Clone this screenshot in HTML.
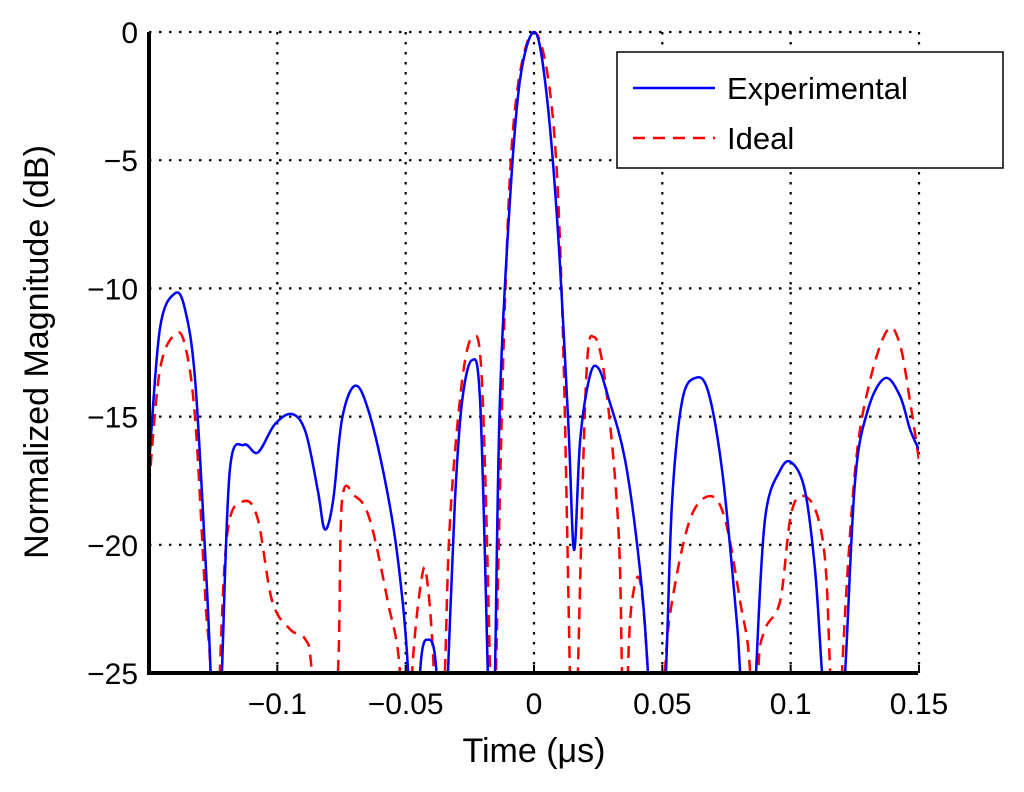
<!DOCTYPE html>
<html><head><meta charset="utf-8"><style>
html,body{margin:0;background:#fff;width:1024px;height:792px;overflow:hidden;}
svg{display:block;font-family:"Liberation Sans",Arial,sans-serif;}
</style></head><body>
<svg id="chart" width="1024" height="792">
<defs><clipPath id="clip"><rect x="149" y="28" width="770" height="645"/></clipPath></defs>
<g id="grid"></g>
<g id="series" clip-path="url(#clip)"></g>
<g id="axes"></g>
<text x="48" y="352" transform="rotate(-90 48 352)" text-anchor="middle" font-size="34">Normalized Magnitude (dB)</text>
<text x="534" y="762" text-anchor="middle" font-size="34">Time (μs)</text>
<g>
<rect x="617" y="52" width="386" height="116" fill="#fff" stroke="#000" stroke-width="1.5"/>
<line x1="633" y1="88" x2="715" y2="88" stroke="#0000ff" stroke-width="2.5"/>
<text x="727" y="99" font-size="31">Experimental</text>
<line x1="633" y1="138" x2="715" y2="138" stroke="#ff0000" stroke-width="2.5" stroke-dasharray="12,8"/>
<text x="727" y="149" font-size="31">Ideal</text>
</g>
</svg>
<script>
const xTicks=[-0.1,-0.05,0,0.05,0.1,0.15];
const xTickLabels=["\u22120.1","\u22120.05","0","0.05","0.1","0.15"];
const yTicks=[0,-5,-10,-15,-20,-25];
const yTickLabels=["0","\u22125","\u221210","\u221215","\u221220","\u221225"];
const expT=[-0.15,-0.1458,-0.14,-0.136,-0.132,-0.128,-0.126,-0.124,-0.1216,-0.1185,-0.113,-0.1076,-0.101,-0.0943,-0.089,-0.0842,-0.0815,-0.0783,-0.0748,-0.0698,-0.0647,-0.058,-0.053,-0.049,-0.0467,-0.0444,-0.0413,-0.038,-0.036,-0.0335,-0.0308,-0.028,-0.0242,-0.021,-0.018,-0.0166,-0.0152,-0.0133,-0.0094,-0.0055,0,0.0043,0.009,0.0133,0.0156,0.018,0.0218,0.025,0.0288,0.0355,0.0413,0.0444,0.048,0.0514,0.0538,0.0577,0.0627,0.0678,0.0733,0.0783,0.0803,0.0834,0.0865,0.09,0.0959,0.1005,0.1056,0.1095,0.1122,0.1167,0.1212,0.1251,0.1302,0.1368,0.1426,0.1465,0.15];
const expV=[-16.9,-11.6,-10.2,-10.8,-13.6,-20.6,-25,-32,-25,-17.1,-16.1,-16.4,-15.3,-14.9,-15.6,-17.9,-19.4,-18.3,-15.1,-13.8,-14.7,-17.5,-20.6,-25,-32,-25,-23.7,-25,-32,-25,-18.3,-14.4,-12.8,-14.4,-25,-32,-25,-14.4,-6.6,-1.9,0,-1.9,-7.3,-15.1,-20.2,-15.9,-13.4,-13.1,-14.2,-16.7,-21,-25,-32,-25,-18.3,-14.4,-13.5,-14,-17.1,-22.2,-25,-32,-25,-19,-17.1,-16.8,-17.9,-21,-25,-32,-25,-17.5,-14.7,-13.5,-14.2,-15.5,-16.3];
const idealT=[-0.15,-0.1458,-0.14,-0.136,-0.132,-0.128,-0.126,-0.124,-0.1224,-0.1193,-0.113,-0.1076,-0.102,-0.095,-0.089,-0.0865,-0.081,-0.0764,-0.0748,-0.0698,-0.064,-0.057,-0.0522,-0.05,-0.0475,-0.0436,-0.0415,-0.039,-0.037,-0.0347,-0.0327,-0.028,-0.0238,-0.0203,-0.0171,-0.016,-0.0148,-0.0113,-0.0074,0,0.007,0.0109,0.014,0.0155,0.0171,0.0203,0.0234,0.0277,0.0327,0.0343,0.0355,0.0366,0.0382,0.0413,0.0444,0.048,0.051,0.0538,0.0608,0.0686,0.0744,0.0803,0.0842,0.0857,0.0873,0.09,0.0959,0.0998,0.1037,0.1095,0.1134,0.1154,0.118,0.12,0.1251,0.1309,0.1379,0.1426,0.1465,0.15];
const idealV=[-17.7,-13.2,-11.8,-12.2,-15.1,-22.2,-25,-32,-25,-19.4,-18.3,-19,-22.2,-23.3,-23.7,-25,-32,-25,-18.3,-18.1,-19,-22.2,-25,-32,-25,-21.2,-21.5,-25,-32,-25,-19,-13.6,-11.9,-13.6,-25,-32,-25,-10.5,-3,0,-3,-10.5,-25,-32,-25,-13.6,-11.9,-13.6,-19,-25,-32,-25,-22.2,-21.4,-25,-32,-25,-22.2,-19,-18.1,-19,-22.2,-25,-32,-25,-23.3,-22.2,-19,-18.1,-18.6,-20.6,-25,-32,-25,-17.1,-13.6,-11.6,-12.2,-14.4,-16.7];
const X=t=>534+t*2566.7, Y=v=>32-v*25.64;
const NS="http://www.w3.org/2000/svg";
function mk(tag,attrs,parent){const e=document.createElementNS(NS,tag);for(const k in attrs)e.setAttribute(k,attrs[k]);parent.appendChild(e);return e;}
const grid=document.getElementById('grid'),axes=document.getElementById('axes'),ser=document.getElementById('series');
xTicks.forEach((t,i)=>{
 const g=mk('line',{x1:X(t),x2:X(t),y1:32,y2:673,stroke:'#000','stroke-width':2.2,'stroke-dasharray':'2.5,7.5'},grid);
 
 
 const tk=mk('line',{x1:X(t),x2:X(t),y1:673,y2:665,stroke:'#000','stroke-width':2},axes);
 
 
 const tx=mk('text',{x:X(t),y:714,'text-anchor':'middle','font-size':30},axes);tx.textContent=xTickLabels[i];
 
 
});
yTicks.forEach((v,i)=>{
 const g=mk('line',{x1:149,x2:918,y1:Y(v),y2:Y(v),stroke:'#000','stroke-width':2.2,'stroke-dasharray':'2.5,7.5'},grid);
 
 
 const tx=mk('text',{x:138,y:Y(v)+11,'text-anchor':'end','font-size':30},axes);tx.textContent=yTickLabels[i];
 
 
});
const ax=mk('path',{d:'M149,32 L149,673 L918,673',fill:'none',stroke:'#000','stroke-width':4},axes);


function smooth(T,V){
 const p=T.map((t,i)=>[X(t),Y(V[i])]);
 let d='M'+p[0][0].toFixed(1)+','+p[0][1].toFixed(1);
 for(let i=0;i<p.length-1;i++){
  const p0=p[i-1]||p[i],p1=p[i],p2=p[i+1],p3=p[i+2]||p[i+1];
  const c1=[p1[0]+(p2[0]-p0[0])/6,p1[1]+(p2[1]-p0[1])/6];
  const c2=[p2[0]-(p3[0]-p1[0])/6,p2[1]-(p3[1]-p1[1])/6];
  d+=' C'+c1.map(n=>n.toFixed(1))+' '+c2.map(n=>n.toFixed(1))+' '+p2.map(n=>n.toFixed(1));
 }
 return d;
}
const ide=mk('path',{d:smooth(idealT,idealV),fill:'none',stroke:'#ff0000','stroke-width':2.5,'stroke-dasharray':'12,8'},ser);


const ex=mk('path',{d:smooth(expT,expV),fill:'none',stroke:'#0000ff','stroke-width':2.5},ser);


</script>
</body></html>
